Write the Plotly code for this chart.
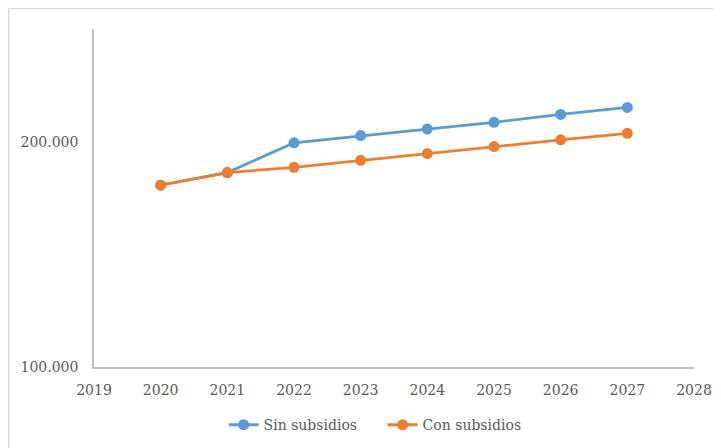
import plotly.graph_objects as go

years = [2020, 2021, 2022, 2023, 2024, 2025, 2026, 2027]
sin_subsidios = [180700, 186300, 199500, 202700, 205600, 208600, 212100, 215200]
con_subsidios = [180700, 186300, 188600, 191700, 194700, 197800, 200800, 203700]
y_ticks = [100000, 200000]
y_tick_labels = ["100.000", "200.000"]
x_ticks = list(range(2019, 2029))

font = dict(family="DejaVu Serif", size=14, color="#595959")

fig = go.Figure()
fig.add_trace(go.Scatter(x=years, y=sin_subsidios, name="Sin subsidios", mode="lines+markers",
                         line=dict(color="#5b9bd5", width=2.8), marker=dict(size=11, color="#5b9bd5")))
fig.add_trace(go.Scatter(x=years, y=con_subsidios, name="Con subsidios", mode="lines+markers",
                         line=dict(color="#ed7d31", width=2.8), marker=dict(size=11, color="#ed7d31")))

fig.update_layout(
    width=713, height=440,
    margin=dict(l=86, r=27, t=21, b=81, autoexpand=False),
    paper_bgcolor="white", plot_bgcolor="white",
    font=font,
    showlegend=True,
    legend=dict(orientation="h", x=0.481, xanchor="center", y=-0.172, yanchor="middle",
                font=font, entrywidth=114, entrywidthmode="pixels"),
    xaxis=dict(range=[2019, 2028], tickvals=x_ticks, showgrid=False, zeroline=False,
               showline=True, linecolor="#bfbfbf", linewidth=1.5, ticks="", ticklabelstandoff=9),
    yaxis=dict(range=[100000, 250000], tickvals=y_ticks, ticktext=y_tick_labels, showgrid=False,
               zeroline=False, showline=True, linecolor="#bfbfbf", linewidth=1.5, ticks="",
               ticklabelstandoff=11),
    shapes=[dict(type="rect", xref="paper", yref="paper", x0=-0.142, x1=1.1, y0=-0.4, y1=1.061,
                 line=dict(color="#d9d9d9", width=1.5), fillcolor="rgba(0,0,0,0)", layer="below")],
)

fig.write_html("out.html")
